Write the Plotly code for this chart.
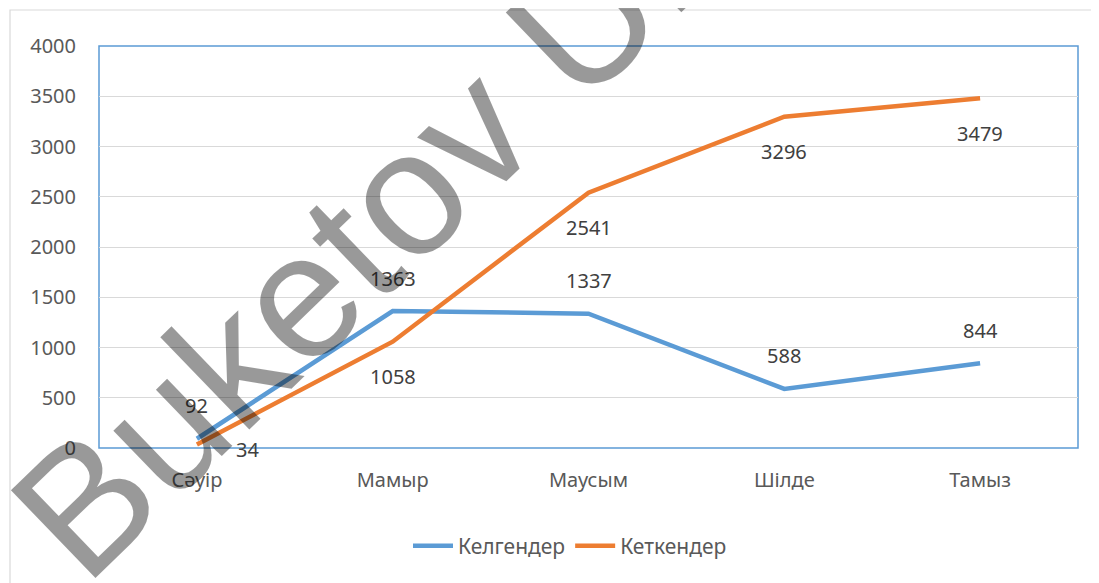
import plotly.graph_objects as go

categories = ["Сәуір", "Мамыр", "Маусым", "Шілде", "Тамыз"]
kelgender = [92, 1363, 1337, 588, 844]
ketkender = [34, 1058, 2541, 3296, 3479]
series_names = ["Келгендер", "Кеткендер"]
y_ticks = [0, 500, 1000, 1500, 2000, 2500, 3000, 3500, 4000]

BLUE = "#5B9BD5"
ORANGE = "#ED7D31"
TXT = "#595959"
FONT = "Noto Sans"

OFF = 8  # page body margin
W, H = 1099, 583
# plot area in page pixels: x 99..1078, y 46..448
L = 99 - OFF
T = 46 - OFF
R = W - (1078 - OFF)
B = H - (448 - OFF)
pw, ph = W - L - R, H - T - B

def px_x(p):
    return (p - OFF - L) / pw

def px_y(p):
    return (H - B - (p - OFF)) / ph

fig = go.Figure()
fig.add_trace(go.Scatter(x=categories, y=kelgender, mode="lines", name=series_names[0],
                         line=dict(color=BLUE, width=4.5)))
fig.add_trace(go.Scatter(x=categories, y=ketkender, mode="lines", name=series_names[1],
                         line=dict(color=ORANGE, width=4.5)))

annotations = []
for c, v in zip(categories, kelgender):
    annotations.append(dict(x=c, y=v, xref="x", yref="y", text=str(v), showarrow=False,
                            yshift=33, font=dict(family=FONT, size=20, color="#404040")))
for i, (c, v) in enumerate(zip(categories, ketkender)):
    if i == 0:
        annotations.append(dict(x=c, y=v, xref="x", yref="y", text=str(v), showarrow=False,
                                xshift=51, yshift=-5, font=dict(family=FONT, size=20, color="#404040")))
    else:
        annotations.append(dict(x=c, y=v, xref="x", yref="y", text=str(v), showarrow=False,
                                yshift=-35, font=dict(family=FONT, size=20, color="#404040")))

# watermark
annotations.append(dict(x=px_x(570), y=px_y(35), xref="paper", yref="paper",
                        text="Buketov University", showarrow=False, textangle=-44,
                        xanchor="center", yanchor="middle",
                        font=dict(family="Liberation Sans", size=177, color="rgba(0,0,0,0.4)")))

shapes = [
    dict(type="rect", xref="paper", yref="paper", x0=px_x(10), x1=px_x(1120), y0=px_y(620), y1=px_y(10),
         line=dict(color="#d9d9d9", width=1.2), layer="below"),
    dict(type="rect", xref="paper", yref="paper", x0=0, x1=1, y0=0, y1=1,
         line=dict(color=BLUE, width=1.5), layer="below"),
]

fig.update_layout(
    width=W, height=H,
    margin=dict(l=L, r=R, t=T, b=B),
    paper_bgcolor="white", plot_bgcolor="white",
    font=dict(family=FONT, size=20, color=TXT),
    showlegend=True,
    legend=dict(orientation="h", x=px_x(570), xanchor="center", y=px_y(546), yanchor="middle",
                font=dict(family=FONT, size=21, color=TXT), itemwidth=40),
    xaxis=dict(type="category", range=[-0.5, 4.5], showgrid=False, zeroline=False,
               showline=False, ticks="", ticklabelstandoff=18,
               tickfont=dict(family=FONT, size=20, color=TXT)),
    yaxis=dict(range=[0, 4000], tickvals=y_ticks, showgrid=True, gridcolor="#d9d9d9", gridwidth=1.2,
               zeroline=False, showline=False, ticks="", ticklabelstandoff=22,
               tickfont=dict(family=FONT, size=20, color=TXT)),
    annotations=annotations,
    shapes=shapes,
)

fig.write_html("out.html")
